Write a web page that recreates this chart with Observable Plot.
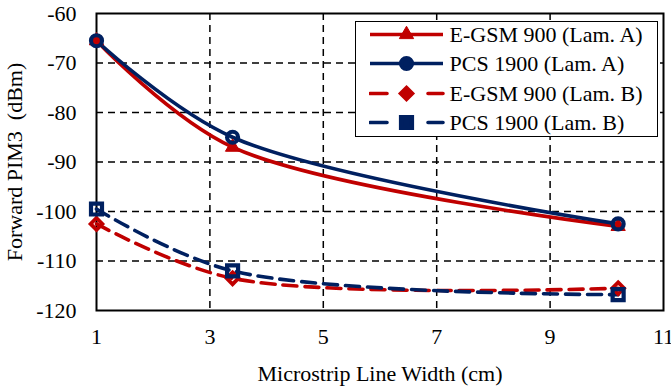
<!DOCTYPE html>
<html>
<head>
<meta charset="utf-8">
<script src="https://cdn.jsdelivr.net/npm/d3@7"></script>
<script src="https://cdn.jsdelivr.net/npm/@observablehq/plot@0.6"></script>
<style>
  html, body { margin: 0; padding: 0; background: #fff; }
  #wrap { position: relative; width: 671px; height: 388px; font-family: "Liberation Serif", "Times New Roman", serif; }
  #legend { position: absolute; left: 355px; top: 21px; width: 303px; height: 116px; box-sizing: border-box;
            border: 1.5px solid #000; background: #fff; }
  .row { position: absolute; left: 0; height: 29px; width: 100%; }
  .row svg { position: absolute; left: 12.5px; top: 0; }
  .row span { position: absolute; left: 93.5px; top: 0; line-height: 29px; font-size: 22px; color: #000; white-space: nowrap; }
</style>
</head>
<body>
<div id="wrap"></div>
<script>
// ---- data ----
const widths = [1, 3.4, 10.2];                 // Microstrip line width (cm)
const egsmA  = [-65.5, -87.0, -103.0];         // E-GSM 900 (Lam. A)
const pcsA   = [-65.5, -85.0, -102.5];         // PCS 1900 (Lam. A)
const egsmB  = [-102.5, -113.5, -115.5];       // E-GSM 900 (Lam. B)
const pcsB   = [-99.5, -112.0, -116.8];        // PCS 1900 (Lam. B)
const seriesNames = ["E-GSM 900 (Lam. A)", "PCS 1900 (Lam. A)", "E-GSM 900 (Lam. B)", "PCS 1900 (Lam. B)"];
const xTicks = [1, 3, 5, 7, 9, 11];
const yTicks = [-120, -110, -100, -90, -80, -70, -60];

// ---- styles ----
const RED = "#C00000", NAVY = "#002060";
const styles = [
  {color: RED,  dash: null,   symbol: "triangle", r: 5.3, fill: RED,    sw: 1},
  {color: NAVY, dash: null,   symbol: "circle",   r: 5.5, fill: "none", sw: 4.2},
  {color: RED,  dash: "14,8", symbol: "diamond2", r: 5.3, fill: "none", sw: 3.8},
  {color: NAVY, dash: "14,8", symbol: "square",   r: 6.2, fill: "none", sw: 4.2}
];
const values = [egsmA, pcsA, egsmB, pcsB];
const rows = [];
values.forEach((vals, i) => vals.forEach((v, j) => rows.push({series: seriesNames[i], idx: i, x: widths[j], y: v})));

const marks = [
  Plot.gridX(xTicks.slice(1, -1), {stroke: "#000", strokeOpacity: 1, strokeWidth: 1.5, strokeDasharray: "7,5"}),
  Plot.gridY(yTicks.slice(1, -1), {stroke: "#000", strokeOpacity: 1, strokeWidth: 1.5, strokeDasharray: "7,5"}),
  Plot.frame({stroke: "#000", strokeWidth: 2}),
  Plot.axisX({ticks: xTicks, tickSize: 0, tickPadding: 18, fontSize: 22, tickFormat: d => String(d),
              label: "Microstrip Line Width (cm)", labelAnchor: "center", labelOffset: 70, labelArrow: "none"}),
  Plot.axisY({ticks: yTicks, tickSize: 0, tickPadding: 20, fontSize: 22, tickFormat: d => String(d),
              label: "Forward PIM3\u00a0 (dBm)", labelAnchor: "center", labelOffset: 90, labelArrow: "none"})
];
styles.forEach((s, i) => {
  const d = rows.filter(r => r.idx === i);
  marks.push(Plot.line(d, {x: "x", y: "y", stroke: s.color, strokeWidth: 3.6, curve: "catmull-rom",
                           strokeDasharray: s.dash || undefined, strokeLinecap: s.dash ? "round" : "butt"}));
});
styles.forEach((s, i) => {
  const d = rows.filter(r => r.idx === i);
  marks.push(Plot.dot(d, {x: "x", y: "y", symbol: () => s.symbol, r: s.r, fill: s.fill, stroke: s.color, strokeWidth: s.sw}));
});

const chart = Plot.plot({
  width: 671, height: 388,
  marginLeft: 96, marginRight: 8, marginTop: 13, marginBottom: 78,
  x: {domain: [1, 11]},
  y: {domain: [-120, -60]},
  style: {fontFamily: "Liberation Serif, Times New Roman, serif", fontSize: "22px", background: "#fff", color: "#000", overflow: "visible"},
  marks
});
document.getElementById("wrap").appendChild(chart);

// ---- legend (HTML overlay, samples drawn with d3 symbols) ----
const legend = document.createElement("div");
legend.id = "legend";
const symMap = {triangle: d3.symbolTriangle, circle: d3.symbolCircle, diamond2: d3.symbolDiamond2, square: d3.symbolSquare};
seriesNames.forEach((name, i) => {
  const s = styles[i];
  const row = document.createElement("div");
  row.className = "row";
  row.style.top = (12.5 + i * 29.3 - 14.5) + "px";
  const svg = d3.create("svg").attr("width", 76).attr("height", 29);
  svg.append("line").attr("x1", 1).attr("x2", 74).attr("y1", 14.5).attr("y2", 14.5)
     .attr("stroke", s.color).attr("stroke-width", 3.6)
     .attr("stroke-dasharray", s.dash ? "17,41,15" : null)
     .attr("stroke-linecap", s.dash ? "round" : "butt");
  svg.append("path").attr("d", d3.symbol(symMap[s.symbol], Math.PI * s.r * s.r)())
     .attr("transform", "translate(37.5,14.5)")
     .attr("fill", s.color).attr("stroke", s.color).attr("stroke-width", s.sw);
  row.appendChild(svg.node());
  const span = document.createElement("span");
  span.textContent = name;
  row.appendChild(span);
  legend.appendChild(row);
});
document.getElementById("wrap").appendChild(legend);
</script>
</body>
</html>
